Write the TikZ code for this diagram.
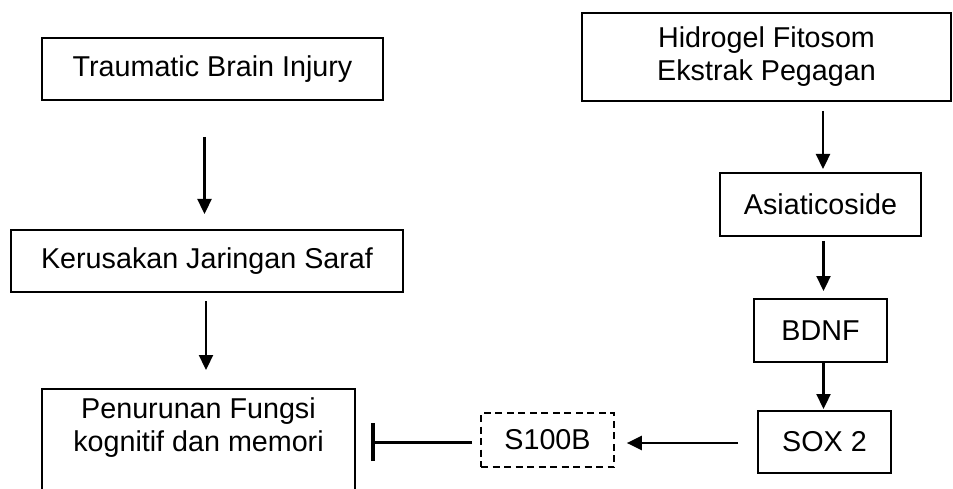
\documentclass[tikz,border=0pt]{standalone}
\usepackage{fontspec}
\setmainfont{Liberation Sans}
\usetikzlibrary{arrows.meta}
\begin{document}
\begin{tikzpicture}[x=1pt,y=-1pt,
  box/.style={draw, line width=2pt, inner sep=0pt, align=center, font=\fontsize{28.7}{33}\selectfont},
  dbox/.style={box, line width=1.7pt, dash pattern=on 7pt off 4.5pt},
  txt/.style={align=center, inner sep=3pt, font=\fontsize{28.7}{33}\selectfont},
  arr/.style={line width=2.3pt, -{Triangle[length=15pt,width=14pt]}},
  inh/.style={line width=3pt, -{Bar[width=38pt,line width=4pt]}}]
\useasboundingbox (0,0) rectangle (953,489);
\clip (0,0) rectangle (953,489);
% left column
\node[box, minimum width=341pt, minimum height=62pt] (tbi) at (212.5,69) {Traumatic Brain Injury};
\node[box, minimum width=392pt, minimum height=62pt] (ker) at (207,261) {Kerusakan Jaringan Saraf};
\node[box, minimum width=313pt, minimum height=130pt, anchor=north,
  label={[txt, anchor=north, yshift=-7pt]north:Penurunan Fungsi\\kognitif dan memori}] (pen) at (198.5,388) {};
% right column
\node[box, minimum width=369pt, minimum height=88pt] (hid) at (766.5,57) {Hidrogel Fitosom\\Ekstrak Pegagan};
\node[box, minimum width=201pt, minimum height=63pt] (asi) at (820.5,204.5) {Asiaticoside};
\node[box, minimum width=133pt, minimum height=63pt] (bdnf) at (820.5,330.5) {BDNF};
\node[box, minimum width=133pt, minimum height=62pt] (sox) at (824.5,442) {SOX 2};
\node[dbox, minimum width=133pt, minimum height=54pt] (s100) at (547.5,440) {S100B};
% connectors
\draw[arr, shorten <=36pt, shorten >=15pt] ([xshift=-8pt]tbi.south) -- ([xshift=-8pt]tbi.south |- ker.north);
\draw[arr, shorten <=8pt, shorten >=18pt] ([xshift=-1pt]ker.south) -- ([xshift=-1pt]ker.south |- pen.north);
\draw[arr, shorten <=9pt, shorten >=3pt] ([xshift=2.5pt]asi.north |- hid.south) -- ([xshift=2.5pt]asi.north);
\draw[arr, shorten <=4pt, shorten >=7pt] ([xshift=3pt]asi.south) -- ([xshift=3pt]bdnf.north);
\draw[arr, shorten >=1pt] ([xshift=3pt]bdnf.south) -- ([xshift=3pt]bdnf.south |- sox.north);
\draw[arr, shorten <=19pt, shorten >=12pt] ([yshift=-1pt]sox.west) -- ([yshift=-1pt]sox.west -| s100.east);
\draw[inh, shorten <=8pt, shorten >=15pt] ([yshift=-2pt]s100.west) -- ([yshift=-2pt]s100.west -| pen.east);
\end{tikzpicture}
\end{document}
